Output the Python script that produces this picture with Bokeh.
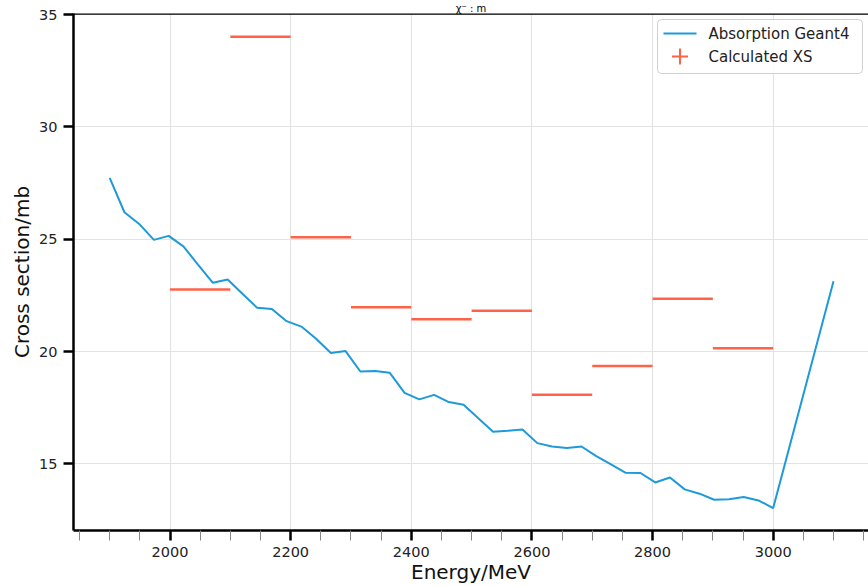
from bokeh.plotting import figure
from bokeh.models import (Range1d, FixedTicker, Span, BoxAnnotation, Label,
                          PolyAnnotation, ColumnDataSource)
from bokeh.embed import file_html
from bokeh.resources import INLINE

# ---------------- data ----------------
energy = [1900.0, 1924.4, 1948.9, 1973.3, 1997.8, 2022.2, 2046.7, 2071.1, 2095.6, 2120.0,
          2144.4, 2168.9, 2193.3, 2217.8, 2242.2, 2266.7, 2291.1, 2315.6, 2340.0, 2364.4,
          2388.9, 2413.3, 2437.8, 2462.2, 2486.7, 2511.1, 2535.6, 2560.0, 2584.4, 2608.9,
          2633.3, 2657.8, 2682.2, 2706.7, 2731.1, 2755.6, 2780.0, 2804.4, 2828.9, 2853.3,
          2877.8, 2902.2, 2926.7, 2951.1, 2975.6, 3000.0, 3100.0]
absorption = [27.73, 26.20, 25.68, 24.97, 25.15, 24.68, 23.86, 23.06, 23.21, 22.57,
              21.95, 21.89, 21.35, 21.11, 20.57, 19.93, 20.02, 19.11, 19.13, 19.05,
              18.16, 17.87, 18.07, 17.75, 17.63, 17.03, 16.43, 16.47, 16.53, 15.92,
              15.77, 15.70, 15.77, 15.34, 14.97, 14.60, 14.59, 14.17, 14.39, 13.86,
              13.67, 13.40, 13.42, 13.52, 13.37, 13.03, 23.13]

xs_center = [2050, 2150, 2250, 2350, 2450, 2550, 2650, 2750, 2850, 2950]
xs_halfwidth = [50, 50, 50, 50, 50, 50, 50, 50, 50, 50]
xs_value = [22.76, 34.02, 25.09, 21.97, 21.44, 21.81, 18.07, 19.36, 22.35, 20.15]

x_major = [2000, 2200, 2400, 2600, 2800, 3000]
x_minor = [1850, 1900, 1950, 2050, 2100, 2150, 2250, 2300, 2350, 2450, 2500, 2550,
           2650, 2700, 2750, 2850, 2900, 2950, 3050, 3100, 3150]
y_major = [15, 20, 25, 30, 35]

title_text = "χ⁻ : m"
line_label = "Absorption Geant4"
xs_label = "Calculated XS"
x_title = "Energy/MeV"
y_title = "Cross section/mb"

X_START, X_END = 1840, 3158
Y_START, Y_END = 12.03, 35.05

BLUE = "#1e9ad8"
RED = "#ff6347"
FONT = "DejaVu Sans"

# ---------------- figure ----------------
W, H = 868, 586
ML, MR, MT, MB = 73, 0, 13, 56
FW, FH = W - ML - MR, H - MT - MB

p = figure(width=W, height=H, output_backend="svg", toolbar_location=None,
           x_range=Range1d(X_START, X_END), y_range=Range1d(Y_START, Y_END),
           min_border_left=ML, min_border_right=MR, min_border_top=MT,
           min_border_bottom=MB)
p.outline_line_color = None
p.background_fill_color = "white"
p.border_fill_color = "white"

# title in the thin strip above the frame
p.title.text = title_text
p.title.align = "center"
p.title.text_font = FONT
p.title.text_font_size = "10px"
p.title.text_font_style = "normal"
p.title.text_color = "black"
p.title.standoff = 0
p.title.offset = -4

# axes
for ax in (p.xaxis[0], p.yaxis[0]):
    ax.axis_line_color = "black"
    ax.axis_line_width = 2.5
    ax.major_tick_line_color = "black"
    ax.major_tick_line_width = 2.5
    ax.major_tick_in = 0
    ax.major_tick_out = 10
    ax.major_label_text_font = FONT
    ax.major_label_text_font_size = "14.5px"
    ax.major_label_text_color = "#222222"
    ax.major_label_standoff = 6
    ax.axis_label_text_font = FONT
    ax.axis_label_text_font_size = "20px"
    ax.axis_label_text_font_style = "normal"
    ax.axis_label_text_color = "#111111"

p.xaxis.ticker = FixedTicker(ticks=x_major, minor_ticks=x_minor)
p.yaxis.ticker = FixedTicker(ticks=y_major)
p.xaxis.minor_tick_line_color = "#888888"
p.xaxis.minor_tick_line_width = 1
p.xaxis.minor_tick_in = 0
p.xaxis.minor_tick_out = 10
p.yaxis.minor_tick_line_color = None
p.xaxis.axis_label = x_title
p.yaxis.axis_label = y_title
p.xaxis.axis_label_standoff = 0
p.yaxis.axis_label_standoff = 2

p.xgrid.ticker = FixedTicker(ticks=x_major)
p.ygrid.ticker = FixedTicker(ticks=y_major)
for g in (p.xgrid[0], p.ygrid[0]):
    g.grid_line_color = "#e3e3e3"
    g.grid_line_width = 1.2

# top spine
p.add_layout(Span(location=Y_END, dimension="width", line_color="black",
                  line_width=2.5))

# ---------------- data glyphs ----------------
src_line = ColumnDataSource(dict(x=energy, y=absorption))
p.line("x", "y", source=src_line, line_color=BLUE, line_width=2)

src_xs = ColumnDataSource(dict(
    x0=[c - h for c, h in zip(xs_center, xs_halfwidth)],
    x1=[c + h for c, h in zip(xs_center, xs_halfwidth)],
    y=xs_value))
p.segment(x0="x0", y0="y", x1="x1", y1="y", source=src_xs,
          line_color=RED, line_width=2.5)

# ---------------- legend (screen units, relative to frame, y up) ----------------
box_l, box_r = 584, 789
box_t, box_b = FH - 6, FH - 60
row1 = FH - 20
row2 = FH - 43
p.add_layout(BoxAnnotation(left=box_l, right=box_r, top=box_t, bottom=box_b,
                           left_units="screen", right_units="screen",
                           top_units="screen", bottom_units="screen",
                           fill_color="white", fill_alpha=0.85,
                           line_color="#d0d0d0", line_alpha=1, line_width=1,
                           border_radius=4))
p.add_layout(PolyAnnotation(xs=[590, 623], ys=[row1, row1],
                            xs_units="screen", ys_units="screen",
                            fill_alpha=0, line_color=BLUE, line_alpha=1,
                            line_width=2))
cx = 606.5
p.add_layout(PolyAnnotation(xs=[cx - 8, cx + 8], ys=[row2, row2],
                            xs_units="screen", ys_units="screen",
                            fill_alpha=0, line_color=RED, line_alpha=1,
                            line_width=2))
p.add_layout(PolyAnnotation(xs=[cx, cx], ys=[row2 - 8, row2 + 8],
                            xs_units="screen", ys_units="screen",
                            fill_alpha=0, line_color=RED, line_alpha=1,
                            line_width=2))
for txt, ry in ((line_label, row1), (xs_label, row2)):
    p.add_layout(Label(x=635, y=ry, x_units="screen", y_units="screen", text=txt,
                       text_font=FONT, text_font_size="15px", text_color="#222222",
                       text_baseline="middle", text_align="left"))

open("out.html", "w").write(file_html(p, INLINE))
